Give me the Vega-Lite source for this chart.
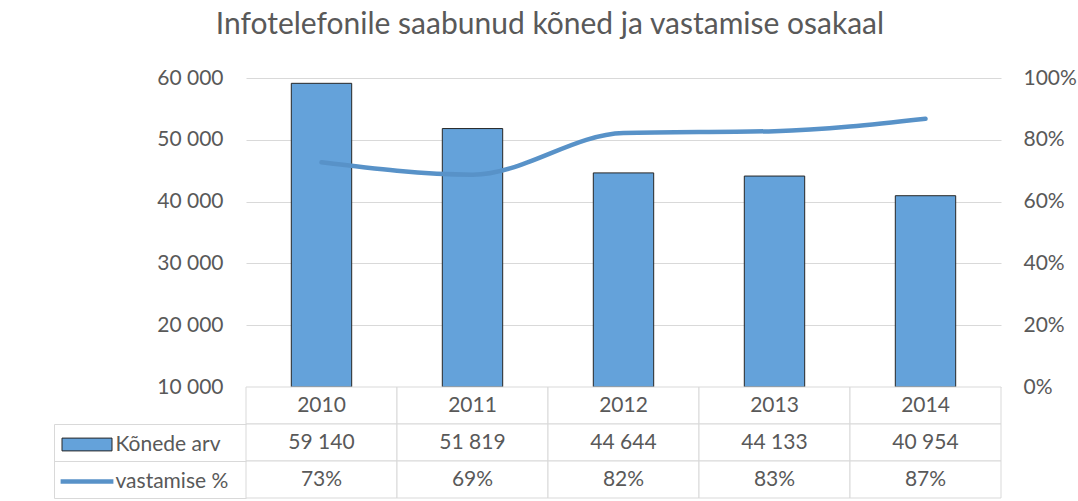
{
  "$schema": "https://vega.github.io/schema/vega-lite/v6.json",
  "background": "white",
  "padding": {"left": 53, "top": 10, "right": 0, "bottom": 0},
  "config": {
    "font": "Lato",
    "view": {"stroke": null},
    "locale": {"number": {"decimal": ",", "thousands": " ", "grouping": [3], "currency": ["", " €"]}}
  },
  "title": {
    "text": "Infotelefonile saabunud kõned ja vastamise osakaal",
    "anchor": "middle",
    "fontSize": 30,
    "fontWeight": "normal",
    "color": "#595959",
    "font": "Lato",
    "offset": 27,
    "dx": -15
  },
  "bounds": "flush",
  "spacing": 0,
  "resolve": {"scale": {"x": "independent", "y": "independent"}},
  "datasets": {
    "d": [
      {"year": "2010", "calls": 59140, "pct": 0.727},
      {"year": "2011", "calls": 51819, "pct": 0.687},
      {"year": "2012", "calls": 44644, "pct": 0.822},
      {"year": "2013", "calls": 44133, "pct": 0.828},
      {"year": "2014", "calls": 40954, "pct": 0.868}
    ]
  },
  "vconcat": [
    {
      "width": 755,
      "height": 309,
      "data": {"name": "d"},
      "encoding": {
        "x": {"field": "year", "type": "nominal", "scale": {"paddingInner": 0.6, "paddingOuter": 0.3}, "axis": null}
      },
      "layer": [
        {
          "mark": {"type": "bar", "stroke": "#262626", "strokeWidth": 1},
          "encoding": {
            "y": {
              "field": "calls", "type": "quantitative",
              "scale": {"domain": [10000, 60000], "zero": false},
              "axis": {
                "values": [10000, 20000, 30000, 40000, 50000, 60000],
                "format": ",.0f",
                "grid": true, "gridColor": "#d9d9d9", "gridWidth": 1,
                "domain": false, "ticks": false, "tickSize": 0,
                "labelPadding": 23, "labelFontSize": 21, "labelColor": "#595959",
                "title": null
              }
            },
            "y2": {"datum": 10000},
            "color": {
              "datum": "Kõnede arv",
              "scale": {"domain": ["Kõnede arv"], "range": ["#64a2da"]},
              "legend": {
                "orient": "none",
                "legendX": -192,
                "legendY": 356,
                "title": null,
                "padding": 0,
                "symbolType": "M-6.25,-1.6H6.25V1.6H-6.25Z",
                "symbolSize": 64,
                "symbolStrokeColor": "#262626",
                "symbolStrokeWidth": 1,
                "symbolOpacity": 1,
                "symbolOffset": 22.5,
                "labelOffset": 18,
                "labelFontSize": 21,
                "labelColor": "#595959",
                "labelFont": "Lato"
              }
            }
          }
        },
        {
          "mark": {"type": "line", "interpolate": "monotone", "strokeWidth": 4.5, "strokeCap": "round"},
          "encoding": {
            "y": {
              "field": "pct", "type": "quantitative",
              "scale": {"domain": [0, 1]},
              "axis": {
                "orient": "right",
                "values": [0, 0.2, 0.4, 0.6, 0.8, 1],
                "format": ".0%",
                "grid": false, "domain": false, "ticks": false, "tickSize": 0,
                "labelPadding": 22, "labelFontSize": 21, "labelColor": "#595959",
                "title": null
              }
            },
            "stroke": {
              "datum": "vastamise %",
              "scale": {"domain": ["vastamise %"], "range": ["#5892c8"]},
              "legend": {
                "orient": "none",
                "legendX": -192,
                "legendY": 393,
                "title": null,
                "padding": 0,
                "symbolType": "M-6.6,0H6.6",
                "symbolSize": 64,
                "symbolStrokeWidth": 4.5,
                "symbolOpacity": 1,
                "symbolOffset": 22.5,
                "labelOffset": 18,
                "labelFontSize": 21,
                "labelColor": "#595959",
                "labelFont": "Lato"
              }
            }
          }
        }
      ],
      "resolve": {"scale": {"y": "independent"}}
    },
    {
      "width": 755,
      "height": 111,
      "data": {"name": "d"},
      "encoding": {
        "x": {"field": "year", "type": "nominal", "scale": {"paddingInner": 0, "paddingOuter": 0}, "axis": null}
      },
      "layer": [
        {
          "mark": {"type": "rect", "fill": "white", "stroke": "#d9d9d9", "strokeWidth": 1},
          "encoding": {
            "y": {
              "datum": "Aasta", "type": "nominal",
              "scale": {"domain": ["Aasta", "Kõnede arv", "vastamise %"], "paddingInner": 0, "paddingOuter": 0},
              "axis": {
                "orient": "left",
                "labels": false,
                "title": null,
                "bandPosition": 1,
                "offset": 192,
                "tickSize": -192,
                "tickColor": "#d9d9d9",
                "tickWidth": 1,
                "domainColor": "#d9d9d9",
                "domainWidth": 1,
                "domainDash": [0, 37, 74, 0],
                "grid": false
              }
            }
          }
        },
        {
          "mark": {"type": "rect", "fill": "white", "stroke": "#d9d9d9", "strokeWidth": 1},
          "encoding": {"y": {"datum": "Kõnede arv", "type": "nominal"}}
        },
        {
          "mark": {"type": "rect", "fill": "white", "stroke": "#d9d9d9", "strokeWidth": 1},
          "encoding": {"y": {"datum": "vastamise %", "type": "nominal"}}
        },
        {
          "mark": {"type": "text", "fontSize": 21, "color": "#595959", "font": "Lato"},
          "encoding": {"y": {"datum": "Aasta", "type": "nominal"}, "text": {"field": "year", "type": "nominal"}}
        },
        {
          "mark": {"type": "text", "fontSize": 21, "color": "#595959", "font": "Lato"},
          "encoding": {"y": {"datum": "Kõnede arv", "type": "nominal"}, "text": {"field": "calls", "type": "quantitative", "format": ","}}
        },
        {
          "mark": {"type": "text", "fontSize": 21, "color": "#595959", "font": "Lato"},
          "encoding": {"y": {"datum": "vastamise %", "type": "nominal"}, "text": {"field": "pct", "type": "quantitative", "format": ".0%"}}
        }
      ]
    }
  ]
}
